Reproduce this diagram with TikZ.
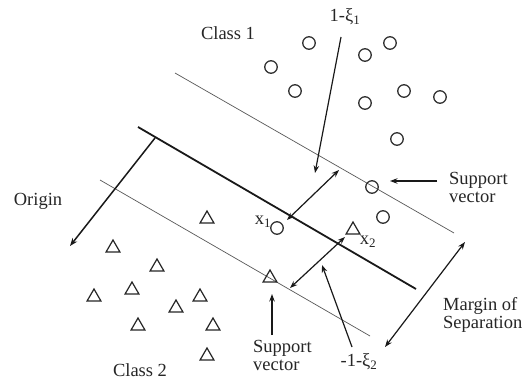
\documentclass[tikz,border=0pt]{standalone}
\usepackage{fontspec}
\setmainfont{Liberation Serif}
\usetikzlibrary{arrows.meta,shapes.geometric}
\begin{document}
\begin{tikzpicture}[x=1pt,y=-1pt,
  lbl/.style={font=\fontsize{18.5}{18}\selectfont, text=black!85, inner sep=0pt, align=left},
  cls1/.style={circle, draw=black!80, line width=1.3pt, minimum size=12.5pt, inner sep=0pt},
  cls2/.style={regular polygon, regular polygon sides=3, draw=black!85, line width=1.2pt, minimum size=16pt, inner sep=0pt},
  thinline/.style={line width=0.7pt, draw=black!65},
  hyper/.style={line width=1.8pt, draw=black!90},
  arr/.style={line width=1.2pt, draw=black!90, -{Stealth[length=7.5pt,width=5.5pt]}},
  darr/.style={line width=1.2pt, draw=black!90, {Stealth[length=7.5pt,width=5.5pt]}-{Stealth[length=7.5pt,width=5.5pt]}}
]
\useasboundingbox (0,0) rectangle (524,379);
\fill[white] (0,0) rectangle (524,379);

% margin lines and hyperplane
\coordinate (u1) at (175,73);  \coordinate (u2) at (454,233);
\coordinate (h1) at (138,127); \coordinate (h2) at (416,289);
\coordinate (l1) at (100,180); \coordinate (l2) at (370,336);
\draw[thinline] (u1) -- (u2);
\draw[hyper] (h1) -- (h2);
\draw[thinline] (l1) -- (l2);

% origin arrow
\coordinate (o1) at (155,138); \coordinate (o2) at (70,246);
\draw[hyper, line width=1.5pt, -{Stealth[length=8pt,width=6pt]}] (o1) -- (o2);

% class 1 points
\node[cls1] (a1) at (309,43) {};
\node[cls1] (a2) at (365,55) {};
\node[cls1] (a3) at (390,43) {};
\node[cls1] (a4) at (271,67) {};
\node[cls1] (a5) at (295,91) {};
\node[cls1] (a6) at (404,91) {};
\node[cls1] (a7) at (365,103) {};
\node[cls1] (a8) at (440,97) {};
\node[cls1] (a9) at (397,139) {};
\node[cls1] (sv1) at (372,187) {};
\node[cls1] (a10) at (383,217) {};
\node[cls1] (x1) at (277,228) {};

% class 2 points
\node[cls2] (b1) at (207,219) {};
\node[cls2] (b2) at (113,248) {};
\node[cls2] (b3) at (157,267) {};
\node[cls2] (b4) at (94,297) {};
\node[cls2] (b5) at (132,290) {};
\node[cls2] (b6) at (200,297) {};
\node[cls2] (b7) at (176,308) {};
\node[cls2] (b8) at (138,326) {};
\node[cls2] (b9) at (213,326) {};
\node[cls2] (b10) at (207,356) {};
\node[cls2] (sv2) at (270,278) {};
\node[cls2] (x2) at (353,230) {};

% labels
\node[lbl] (class1) at (228,33) {Class 1};
\node[lbl] (xi1) at (345,17) {1-ξ\textsubscript{1}};
\node[lbl] (origin) at (38,201) {Origin};
\node[lbl] (x1l) at (263,222) {x\textsubscript{1}};
\node[lbl] (x2l) at (368,242) {x\textsubscript{2}};
\node[lbl, anchor=west] (svl1) at (449,187) {Support\\vector};
\node[lbl, anchor=west] (svl2) at (253,355) {Support\\vector};
\node[lbl, anchor=west] (margin) at (443,315) {Margin of\\Separation};
\node[lbl] (class2) at (140,370) {Class 2};
\node[lbl] (xi2) at (359,362) {-1-ξ\textsubscript{2}};

% arrows
\coordinate (xi1s) at (341,37);  \coordinate (xi1t) at (315,173);
\draw[arr] (xi1s) -- (xi1t);
\coordinate (d1a) at (287,220); \coordinate (d1b) at (339,170);
\draw[darr] (d1a) -- (d1b);
\coordinate (d2a) at (345,237); \coordinate (d2b) at (290,288);
\draw[darr] (d2a) -- (d2b);
\coordinate (xi2s) at (352,347); \coordinate (xi2t) at (322,265);
\draw[arr] (xi2s) -- (xi2t);
\coordinate (sv1s) at (437,181); \coordinate (sv1t) at (390,181);
\draw[arr] (sv1s) -- (sv1t);
\coordinate (sv2s) at (272,335); \coordinate (sv2t) at (272,294);
\draw[arr] (sv2s) -- (sv2t);
\coordinate (ma) at (465,242); \coordinate (mb) at (385,347);
\draw[darr] (ma) -- (mb);
\end{tikzpicture}
\end{document}
